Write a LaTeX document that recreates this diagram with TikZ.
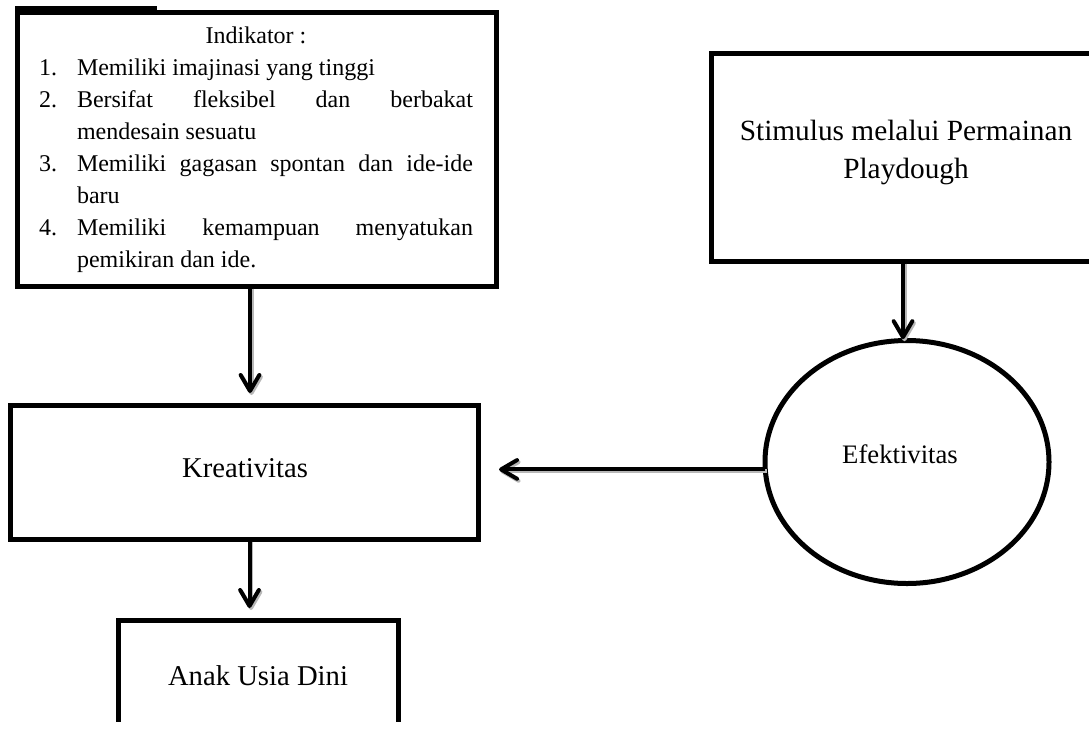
\documentclass[tikz,border=0pt]{standalone}
\usepackage{fontspec}
\setmainfont{Liberation Serif}
\usetikzlibrary{arrows.meta,shapes.geometric}
\newdimen\pxu \pxu=0.75pt
\tikzset{
  rectbox/.style={draw, rectangle, line width=3.75pt, inner sep=0pt, outer sep=0pt},
  ovalbox/.style={draw, ellipse, line width=3.75pt, inner sep=0pt, outer sep=0pt},
  flowarrow/.style={line width=3pt, -{Straight Barb[length=12pt,width=14pt,round]}},
  flowshadow/.style={flowarrow, draw=black!28, transform canvas={shift={(1.5,2)}}},
  txt/.style={inner sep=0pt, outer sep=0pt, anchor=base},
}
\begin{document}
\begin{tikzpicture}[x=0.75pt,y=-0.75pt]
\useasboundingbox (0,0) rectangle (1089,729);
\begin{scope}
\clip (0,0) rectangle (1089,721);
% shapes
\node[rectbox, minimum width=479\pxu, minimum height=274\pxu] (ind) at (257,149.5) {};
\fill (15,6) rectangle (157,12);
\node[rectbox, minimum width=468\pxu, minimum height=134.5\pxu] (kre) at (244.5,472.25) {};
\node[rectbox, minimum width=280\pxu, minimum height=140\pxu] (anak) at (258,690) {};
\node[rectbox, minimum width=388.5\pxu, minimum height=208.5\pxu] (stim) at (905.75,157.25) {};
\node[ovalbox, minimum width=284\pxu, minimum height=243\pxu] (ell) at (907,462) {};
% texts
\node[txt, anchor=base west] (indT) at (39,43) {\fontsize{18}{24}\selectfont
\begin{minipage}[t]{325.5pt}
{\centering Indikator :\par}
\hyphenpenalty=10000 \exhyphenpenalty=10000
\begin{list}{\arabic{enumi}.}{\usecounter{enumi}\setlength{\leftmargin}{28.5pt}\setlength{\labelwidth}{13.5pt}\setlength{\labelsep}{15pt}\setlength{\itemsep}{0pt}\setlength{\parsep}{0pt}\setlength{\topsep}{0pt}\setlength{\partopsep}{0pt}}
\item Memiliki imajinasi yang tinggi
\item Bersifat fleksibel dan berbakat\linebreak mendesain sesuatu
\item Memiliki gagasan spontan dan ide-ide\linebreak baru
\item Memiliki kemampuan menyatukan\linebreak pemikiran dan ide.
\end{list}
\end{minipage}};
\node[txt] (kreT) at (245,477) {\fontsize{21.5}{26}\selectfont Kreativitas};
\node[txt] (effT) at (900,463) {\fontsize{20}{24}\selectfont Efektivitas};
\node[txt] (stimT) at (906,140) {\fontsize{22}{28.5}\selectfont\begin{tabular}[t]{@{}c@{}}Stimulus melalui Permainan\\ Playdough\end{tabular}};
\node[txt] (anakT) at (258,685) {\fontsize{21.5}{26}\selectfont Anak Usia Dini};
% connectors
\coordinate (a1x) at (250,0);
\coordinate (a2x) at (249.5,0);
\coordinate (a3x) at (903,0);
\draw[flowshadow, shorten >=9pt] (ind.south -| a1x) -- (kre.north -| a1x);
\draw[flowarrow, shorten >=9pt] (ind.south -| a1x) -- (kre.north -| a1x);
\draw[flowshadow, shorten >=9pt] (kre.south -| a2x) -- (anak.north -| a2x);
\draw[flowarrow, shorten >=9pt] (kre.south -| a2x) -- (anak.north -| a2x);
\draw[flowshadow, shorten >=1pt] (stim.south -| a3x) -- (ell.north -| a3x);
\draw[flowarrow, shorten >=1pt] (stim.south -| a3x) -- (ell.north -| a3x);
\draw[flowshadow, shorten >=15.4pt] (ell.183) -- (kre.east |- ell.183);
\draw[flowarrow, shorten >=15.4pt] (ell.183) -- (kre.east |- ell.183);
\end{scope}
\end{tikzpicture}
\end{document}
